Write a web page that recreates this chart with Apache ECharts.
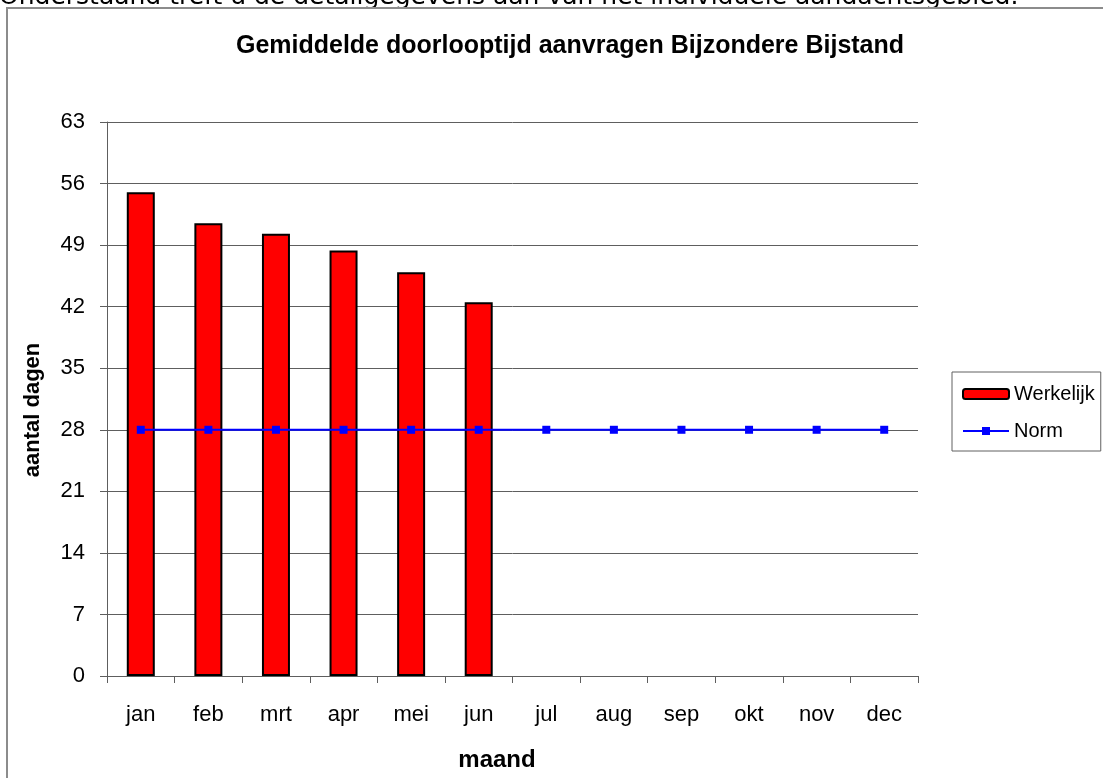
<!DOCTYPE html>
<html>
<head>
<meta charset="utf-8">
<script src="https://cdn.jsdelivr.net/npm/echarts@6/dist/echarts.min.js"></script>
<style>
html,body{margin:0;padding:0;background:#fff;}
#chart{width:1103px;height:778px;}
</style>
</head>
<body>
<div id="chart"></div>
<script>
var months = ['jan','feb','mrt','apr','mei','jun','jul','aug','sep','okt','nov','dec'];
var werkelijk = [55, 51.5, 50.3, 48.4, 45.9, 42.5, null, null, null, null, null, null];
var norm = [28, 28, 28, 28, 28, 28, 28, 28, 28, 28, 28, 28];
var yTicks = [0, 7, 14, 21, 28, 35, 42, 49, 56, 63];

var chart = echarts.init(document.getElementById('chart'));
var lineGray = '#5e5e5e';
chart.setOption({
  animation: false,
  backgroundColor: '#fff',
  textStyle: {fontFamily: 'Liberation Sans, Arial, sans-serif'},
  graphic: [
    {type: 'text', x: -1, y: 10, silent: true,
     style: {text: 'Onderstaand treft u de detailgegevens aan van het individuele aandachtsgebied.',
             font: '25px "DejaVu Sans", Verdana, sans-serif', fill: '#000',
             verticalAlign: 'bottom'}},
    {type: 'rect', shape: {x: 7, y: 8, width: 1300, height: 1000}, silent: true,
     style: {fill: '#fff', stroke: '#8c8c8c', lineWidth: 2}},
    {type: 'text', x: 570, y: 46, silent: true,
     style: {text: 'Gemiddelde doorlooptijd aanvragen Bijzondere Bijstand',
             font: 'bold 25px "Liberation Sans", Arial, sans-serif', fill: '#000',
             align: 'center', verticalAlign: 'middle'}},
    {type: 'text', x: 497, y: 760, silent: true,
     style: {text: 'maand', font: 'bold 24px "Liberation Sans", Arial, sans-serif', fill: '#000',
             align: 'center', verticalAlign: 'middle'}},
    {type: 'text', x: 33, y: 410, rotation: Math.PI / 2, silent: true,
     style: {text: 'aantal dagen', font: 'bold 22px "Liberation Sans", Arial, sans-serif', fill: '#000',
             align: 'center', verticalAlign: 'middle'}}
  ],
  legend: {
    orient: 'vertical',
    left: 952, top: 372,
    padding: [12, 6, 10, 10],
    itemGap: 17,
    itemWidth: 46, itemHeight: 10,
    borderColor: '#606060', borderWidth: 1,
    textStyle: {fontSize: 20, color: '#000', fontFamily: 'Liberation Sans, Arial, sans-serif'},
    data: ['Werkelijk', 'Norm']
  },
  grid: {left: 107, right: 185, top: 122, bottom: 102, show: true,
         borderColor: lineGray, borderWidth: 1, containLabel: false},
  xAxis: {
    type: 'category', data: months, boundaryGap: true,
    axisLine: {lineStyle: {color: lineGray, width: 1}},
    axisTick: {show: true, length: 7, interval: 0, lineStyle: {color: lineGray}},
    axisLabel: {fontSize: 22, color: '#000', margin: 28, interval: 0}
  },
  yAxis: {
    type: 'value', min: 0, max: 63, interval: 7,
    axisLine: {show: true, lineStyle: {color: lineGray, width: 1}},
    axisTick: {show: true, length: 7, lineStyle: {color: lineGray}},
    axisLabel: {fontSize: 22, color: '#000', margin: 22,
                formatter: function (v) { return yTicks.indexOf(v) >= 0 ? String(v) : ''; }},
    splitLine: {show: true, lineStyle: {color: lineGray, width: 1}}
  },
  series: [
    {name: 'Werkelijk', type: 'bar', data: werkelijk, barWidth: 28,
     itemStyle: {color: '#ff0000', borderColor: '#000', borderWidth: 2}},
    {name: 'Norm', type: 'line', data: norm, symbol: 'rect', symbolSize: 8, showAllSymbol: true,
     lineStyle: {color: '#0000ff', width: 2}, itemStyle: {color: '#0000ff'}}
  ]
});
</script>
</body>
</html>
